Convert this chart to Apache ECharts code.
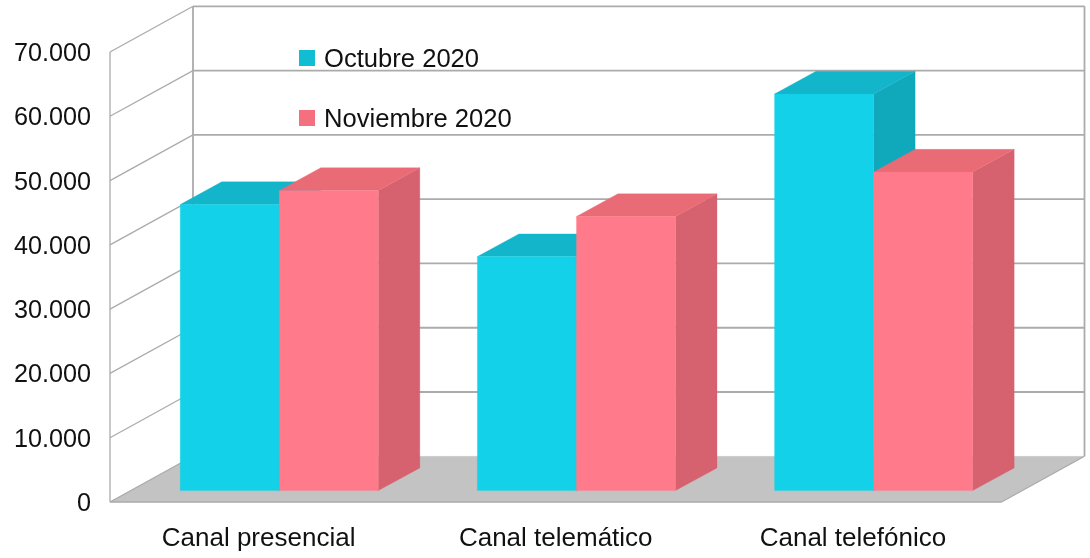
<!DOCTYPE html>
<html><head><meta charset="utf-8">
<style>html,body{margin:0;padding:0;background:#fff}#c{width:1090px;height:558px}</style>
<script src="https://cdn.jsdelivr.net/npm/echarts@6/dist/echarts.min.js"></script>
</head><body><div id="c"></div>
<script>
const categories = ['Canal presencial', 'Canal telemático', 'Canal telefónico'];
const octubre = [44500, 36400, 61700];
const noviembre = [46700, 42650, 49550];
const yTicks = [0, 10000, 20000, 30000, 40000, 50000, 60000, 70000];

const wallDepth = [83, -45.7];
const barNear = [20.7, -11.4];
const barFar = [62.2, -34.1];
const pal = {
  oct: {front: '#13D1E8', top: '#12B5CA', side: '#10A8BB', legend: '#10BDD2'},
  nov: {front: '#FF7A8A', top: '#E96B76', side: '#D5626E', legend: '#F5707F'}
};
const lineC = '#ABABAB';
const shift = (p, d) => [p[0] + d[0], p[1] + d[1]];
function poly(points, fill) {
  return {type: 'polygon', shape: {points}, style: {fill, stroke: fill, lineWidth: 0.3}};
}
function line(a, b, w) {
  return {type: 'line', shape: {x1: a[0], y1: a[1], x2: b[0], y2: b[1]}, style: {stroke: lineC, lineWidth: w || 1.3, fill: null}};
}
function wallItem(params, api) {
  const v = api.value(0);
  const a = api.coord([0, v]);
  const halfBand = api.size([1, 0])[0] / 2;
  const L = [a[0] - halfBand, a[1]];
  const R = [L[0] + 3 * 2 * halfBand, a[1]];
  const children = [];
  if (v === 0) {
    children.push(poly([L, R, shift(R, wallDepth), shift(L, wallDepth)], '#C3C3C3'));
    children.push(line(L, R));
    children.push(line(R, shift(R, wallDepth)));
    const topCoord = api.coord([0, yTicks[yTicks.length - 1]]);
    const TL = [L[0], topCoord[1]];
    children.push(line(L, TL));
    children.push(line(shift(L, wallDepth), shift(TL, wallDepth), 1.8));
    const RT = [R[0], topCoord[1]];
    children.push(line(shift(R, wallDepth), shift(RT, wallDepth), 1.8));
  }
  children.push(line(L, shift(L, wallDepth)));
  if (v !== 0) children.push(line(shift(L, wallDepth), shift(R, wallDepth), 1.8));
  return {type: 'group', children};
}
function barItem(c, dir) {
  return function (params, api) {
    const i = api.value(0), v = api.value(1);
    const base = api.coord([i, 0]);
    const top = api.coord([i, v]);
    const w = api.size([1, 0])[0] / 3;
    const x0 = base[0] + (dir < 0 ? -w : 0);
    const x1 = x0 + w;
    const fb0 = shift([x0, base[1]], barNear), fb1 = shift([x1, base[1]], barNear);
    const ft0 = shift([x0, top[1]], barNear), ft1 = shift([x1, top[1]], barNear);
    const bt0 = shift([x0, top[1]], barFar), bt1 = shift([x1, top[1]], barFar);
    const bb1 = shift([x1, base[1]], barFar);
    return {type: 'group', children: [
      poly([ft1, bt1, bb1, fb1], c.side),
      poly([ft0, ft1, bt1, bt0], c.top),
      poly([fb0, fb1, ft1, ft0], c.front)
    ]};
  };
}
const family = '"Liberation Sans", Arial, sans-serif';
const font = {fontFamily: family, fontSize: 26, color: '#111'};
const chart = echarts.init(document.getElementById('c'), null, {renderer: 'canvas'});
chart.setOption({
  animation: false,
  backgroundColor: '#fff',
  grid: {left: 110, top: 52, width: 891.5, height: 450, containLabel: false},
  legend: {
    orient: 'vertical', left: 299, top: 47, padding: 0, itemWidth: 16, itemHeight: 16, itemGap: 34,
    selectedMode: false,
    formatter: '{t|{name}}',
    textStyle: {fontFamily: family, fontSize: 25.6, color: '#111',
      rich: {t: {fontFamily: family, fontSize: 25.6, color: '#111', padding: [4, 0, 0, 4]}}},
    data: [
      {name: 'Octubre 2020', icon: 'rect', itemStyle: {color: pal.oct.legend}},
      {name: 'Noviembre 2020', icon: 'rect', itemStyle: {color: pal.nov.legend}}
    ]
  },
  xAxis: {
    type: 'category', data: categories,
    axisLine: {show: false}, axisTick: {show: false}, splitLine: {show: false},
    axisLabel: Object.assign({}, font, {margin: 24, interval: 0})
  },
  yAxis: {
    type: 'value', min: 0, max: 70000, interval: 10000,
    axisLine: {show: false}, axisTick: {show: false}, splitLine: {show: false},
    axisLabel: {margin: 19, fontFamily: family, fontSize: 25.2, color: '#111',
      rich: {t: {fontFamily: family, fontSize: 25.2, color: '#111', padding: [4, 0, 0, 0]}},
      formatter: v => '{t|' + (v === 0 ? '0' : (v / 1000) + '.000') + '}'}
  },
  series: [
    {type: 'custom', name: 'walls', silent: true, z: 1, clip: false, renderItem: wallItem,
      encode: {y: 0}, data: yTicks.map(v => [v])},
    {type: 'custom', name: 'Octubre 2020', z: 2, clip: false, renderItem: barItem(pal.oct, -1),
      encode: {x: 0, y: 1}, data: octubre.map((v, i) => [i, v])},
    {type: 'custom', name: 'Noviembre 2020', z: 3, clip: false, renderItem: barItem(pal.nov, 1),
      encode: {x: 0, y: 1}, data: noviembre.map((v, i) => [i, v])}
  ]
});
</script></body></html>
